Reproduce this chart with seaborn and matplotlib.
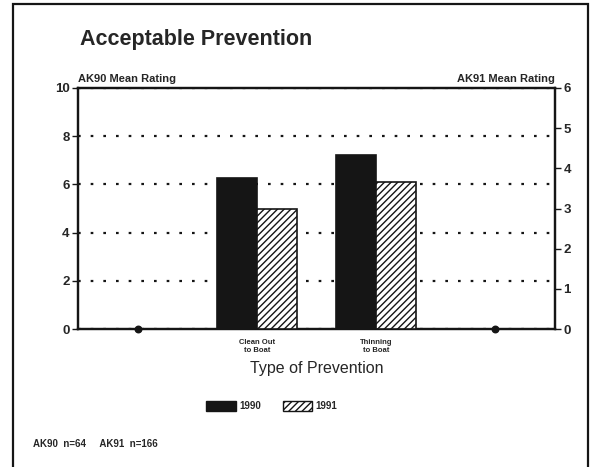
import matplotlib
matplotlib.use("Agg")
import matplotlib.pyplot as plt
import matplotlib.patches as mpatches
import seaborn as sns
import pandas as pd
import numpy as np

# Mean ratings per type of prevention (AK90 on left scale, AK91 on right scale)
categories = ["", "Clean Out\nto Boat", "Thinning\nto Boat", " "]
rating_1990 = [0.0, 6.25, 7.2, 0.0]
rating_1991 = [0.0, 3.0, 3.65, 0.0]
years = ["1990", "1991"]
left_ticks = [0, 2, 4, 6, 8, 10]
right_ticks = [0, 1, 2, 3, 4, 5, 6]

sns.set_theme(style="white")
plt.rcParams["font.family"] = ["Liberation Sans", "DejaVu Sans"]

df90 = pd.DataFrame({"cat": categories, "rating": rating_1990, "year": years[0]})
df91 = pd.DataFrame({"cat": categories, "rating": rating_1991, "year": years[1]})
palette = {"1990": "#151515", "1991": "white"}

fig = plt.figure(figsize=(5.93, 4.67), dpi=100)
fig.patch.set_facecolor("white")
ax = fig.add_axes([78 / 593, 1 - 329 / 467, 477 / 593, 241 / 467])
ax2 = ax.twinx()

sns.barplot(data=df90, x="cat", y="rating", hue="year", hue_order=years,
            order=categories, palette=palette, dodge=True,
            width=0.67, edgecolor="#151515", linewidth=1.2, ax=ax,
            legend=False, zorder=3)
sns.barplot(data=df91, x="cat", y="rating", hue="year", hue_order=years,
            order=categories, palette=palette, dodge=True,
            width=0.67, edgecolor="#151515", linewidth=1.2, ax=ax2,
            legend=False, hatch="/////", zorder=3)

# zero-valued categories are marked with a dot on the baseline
zero_pos = [i for i, (a, b) in enumerate(zip(rating_1990, rating_1991)) if a == 0 and b == 0]
ax.scatter(zero_pos, [0] * len(zero_pos), s=22, color="#151515", zorder=5, clip_on=False)

ax.set_xlim(-0.5, len(categories) - 0.5)
ax.set_ylim(left_ticks[0], left_ticks[-1])
ax2.set_ylim(right_ticks[0], right_ticks[-1])
ax.set_yticks(left_ticks)
ax2.set_yticks(right_ticks)

ax.set_axisbelow(True)
ax.yaxis.grid(True, color="#151515", linestyle=(0, (1.2, 4.5)), linewidth=1.6)
ax.xaxis.grid(False)
ax2.grid(False)

for a in (ax, ax2):
    for s in a.spines.values():
        s.set_color("#151515")
        s.set_linewidth(1.6)
    a.tick_params(axis="y", direction="out", length=4, width=1, color="#151515",
                  labelsize=9.5, pad=2)
    for t in a.get_yticklabels():
        t.set_fontweight("bold")
ax.tick_params(axis="x", direction="out", length=4, width=1, color="#151515",
               labelsize=5.5, pad=3)
for t in ax.get_xticklabels():
    t.set_fontweight("bold")
ax.set_xlabel("Type of Prevention", fontsize=11.5, labelpad=5)
ax.set_ylabel("")
ax2.set_ylabel("")

ax.text(0, 1.015, "AK90 Mean Rating", transform=ax.transAxes, ha="left",
        va="bottom", fontsize=8, fontweight="bold")
ax2.text(1.0, 1.015, "AK91 Mean Rating", transform=ax.transAxes, ha="right",
         va="bottom", fontsize=8, fontweight="bold")

fig.text(80 / 593, 1 - 40 / 467, "Acceptable Prevention", ha="left", va="center",
         fontsize=15.5, fontweight="bold")

handles = [mpatches.Patch(facecolor="#151515", edgecolor="#151515", label=years[0]),
           mpatches.Patch(facecolor="white", edgecolor="#151515", hatch="/////",
                          label=years[1])]
fig.legend(handles=handles, loc="center", bbox_to_anchor=(272 / 593, 1 - 406 / 467),
           ncol=2, frameon=False, handlelength=3.0, handleheight=1.2,
           columnspacing=2.2, handletextpad=0.4,
           prop={"size": 7, "weight": "bold"})

fig.text(33 / 593, 1 - 444 / 467, "AK90  n=64     AK91  n=166", ha="left",
         va="center", fontsize=7, fontweight="bold")

# outer frame around the chart
fig.add_artist(mpatches.Rectangle((13 / 593, -0.02), 575 / 593, 1 - 4 / 467 + 0.02,
                                  transform=fig.transFigure, fill=False,
                                  edgecolor="#151515", linewidth=1.6))

fig.savefig("out.png", dpi=100, facecolor="white")
